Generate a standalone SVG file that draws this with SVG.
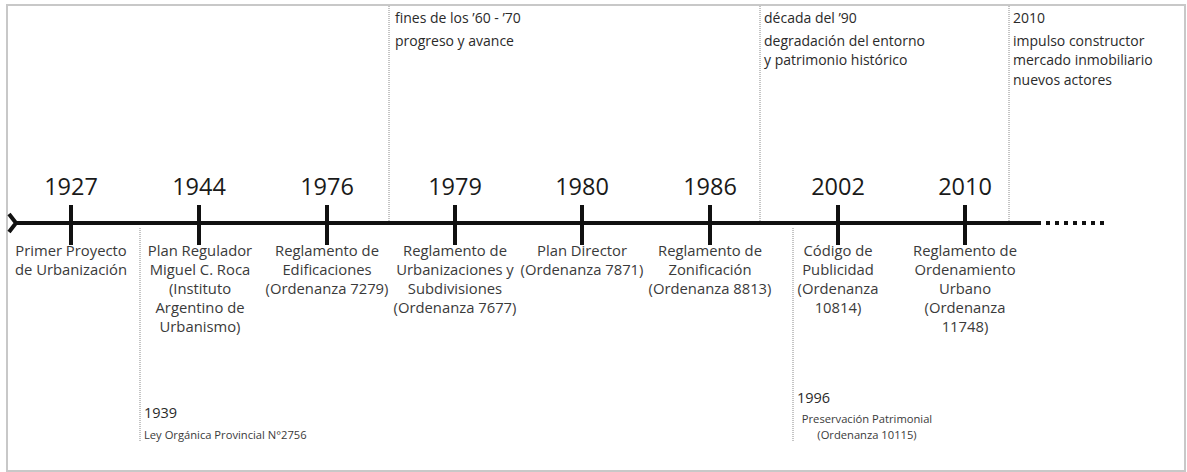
<svg xmlns="http://www.w3.org/2000/svg" width="1187" height="472" viewBox="0 0 1187 472">
  <style>
    .frame { fill: #ffffff; stroke: #c8c8c8; stroke-width: 2; }
    .axis { stroke: #111111; stroke-width: 4; fill: none; }
    .tick { stroke: #111111; stroke-width: 4; }
    .dots { stroke: #111111; stroke-width: 4; stroke-dasharray: 4 5; }
    .sep { stroke: #8a8a8a; stroke-width: 1; stroke-dasharray: 1 1; }
    .year { font-family: "Open Sans", "Noto Sans", sans-serif; font-size: 23.5px; fill: #1a1a1a; text-anchor: middle; }
    .label { font-family: "Open Sans", "Noto Sans", sans-serif; font-size: 14.8px; fill: #3a3a3a; text-anchor: middle; }
    .era { font-family: "Open Sans", "Noto Sans", sans-serif; font-size: 14px; fill: #2a2a2a; }
    .note-year { font-family: "Open Sans", "Noto Sans", sans-serif; font-size: 14.5px; fill: #2a2a2a; }
    .note { font-family: "Open Sans", "Noto Sans", sans-serif; font-size: 11.2px; fill: #3a3a3a; }
  </style>

  <!-- outer frame -->
  <rect class="frame" x="7" y="5" width="1178" height="466"/>

  <!-- period separators and the main axis -->
  <g id="connectors">
    <line class="sep" x1="389" y1="6" x2="389" y2="221"/>
    <line class="sep" x1="760" y1="6" x2="760" y2="221"/>
    <line class="sep" x1="1009" y1="6" x2="1009" y2="221"/>
    <line class="sep" x1="140" y1="228" x2="140" y2="442"/>
    <line class="sep" x1="793" y1="228" x2="793" y2="442"/>

    <polyline class="axis" points="9,214 16,223 9,232"/>
    <line class="axis" x1="14" y1="223" x2="1041" y2="223"/>
    <line class="dots" x1="1046" y1="223" x2="1104" y2="223"/>
  </g>

  <!-- periods -->
  <g id="period-60-70">
    <text class="era" x="395" y="23">fines de los ’60 - ’70</text>
    <text class="era" x="395" y="46">progreso y avance</text>
  </g>
  <g id="period-90">
    <text class="era" x="764" y="23">década del ’90</text>
    <text class="era" x="764" y="46">degradación del entorno</text>
    <text class="era" x="764" y="65">y patrimonio histórico</text>
  </g>
  <g id="period-2010">
    <text class="era" x="1013" y="23">2010</text>
    <text class="era" x="1013" y="46">impulso constructor</text>
    <text class="era" x="1013" y="65">mercado inmobiliario</text>
    <text class="era" x="1013" y="85">nuevos actores</text>
  </g>

  <!-- milestones -->
  <g id="m1927">
    <line class="tick" x1="71" y1="205" x2="71" y2="245"/>
    <text class="year" x="71" y="195">1927</text>
    <text class="label" x="71" y="256">Primer Proyecto</text>
    <text class="label" x="71" y="275">de Urbanización</text>
  </g>
  <g id="m1944">
    <line class="tick" x1="199" y1="205" x2="199" y2="245"/>
    <text class="year" x="199" y="195">1944</text>
    <text class="label" x="200" y="256">Plan Regulador</text>
    <text class="label" x="200" y="275">Miguel C. Roca</text>
    <text class="label" x="200" y="294">(Instituto</text>
    <text class="label" x="200" y="313">Argentino de</text>
    <text class="label" x="200" y="332">Urbanismo)</text>
  </g>
  <g id="m1976">
    <line class="tick" x1="327" y1="205" x2="327" y2="245"/>
    <text class="year" x="327" y="195">1976</text>
    <text class="label" x="327" y="256">Reglamento de</text>
    <text class="label" x="327" y="275">Edificaciones</text>
    <text class="label" x="327" y="294">(Ordenanza 7279)</text>
  </g>
  <g id="m1979">
    <line class="tick" x1="455" y1="205" x2="455" y2="245"/>
    <text class="year" x="455" y="195">1979</text>
    <text class="label" x="455" y="256">Reglamento de</text>
    <text class="label" x="455" y="275">Urbanizaciones y</text>
    <text class="label" x="455" y="294">Subdivisiones</text>
    <text class="label" x="455" y="313">(Ordenanza 7677)</text>
  </g>
  <g id="m1980">
    <line class="tick" x1="582" y1="205" x2="582" y2="245"/>
    <text class="year" x="582" y="195">1980</text>
    <text class="label" x="582" y="256">Plan Director</text>
    <text class="label" x="582" y="275">(Ordenanza 7871)</text>
  </g>
  <g id="m1986">
    <line class="tick" x1="710" y1="205" x2="710" y2="245"/>
    <text class="year" x="710" y="195">1986</text>
    <text class="label" x="710" y="256">Reglamento de</text>
    <text class="label" x="710" y="275">Zonificación</text>
    <text class="label" x="710" y="294">(Ordenanza 8813)</text>
  </g>
  <g id="m2002">
    <line class="tick" x1="838" y1="205" x2="838" y2="245"/>
    <text class="year" x="838" y="195">2002</text>
    <text class="label" x="838" y="256">Código de</text>
    <text class="label" x="838" y="275">Publicidad</text>
    <text class="label" x="838" y="294">(Ordenanza</text>
    <text class="label" x="838" y="313">10814)</text>
  </g>
  <g id="m2010">
    <line class="tick" x1="965" y1="205" x2="965" y2="245"/>
    <text class="year" x="965" y="195">2010</text>
    <text class="label" x="965" y="256">Reglamento de</text>
    <text class="label" x="965" y="275">Ordenamiento</text>
    <text class="label" x="965" y="294">Urbano</text>
    <text class="label" x="965" y="313">(Ordenanza</text>
    <text class="label" x="965" y="332">11748)</text>
  </g>

  <!-- side notes -->
  <g id="n1939">
    <text class="note-year" x="144" y="418">1939</text>
    <text class="note" x="144" y="439">Ley Orgánica Provincial N°2756</text>
  </g>
  <g id="n1996">
    <text class="note-year" x="797" y="403">1996</text>
    <text class="note" x="867" y="423" text-anchor="middle">Preservación Patrimonial</text>
    <text class="note" x="867" y="439" text-anchor="middle">(Ordenanza 10115)</text>
  </g>
</svg>
